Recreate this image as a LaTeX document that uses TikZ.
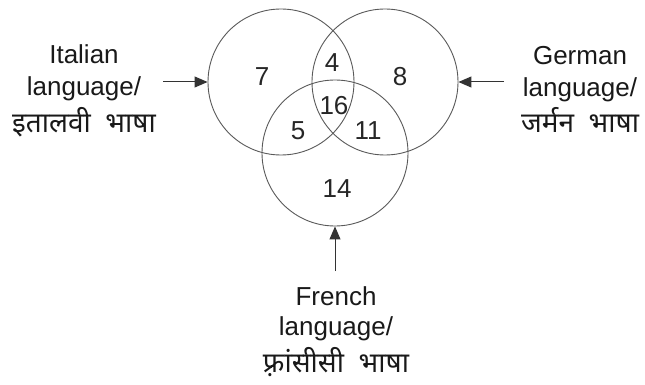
\documentclass[tikz,border=0pt]{standalone}
\usepackage{fontspec}
\setmainfont{Liberation Sans}
\newfontfamily\devfont[Script=Devanagari]{Noto Sans}
\usetikzlibrary{arrows.meta}
\begin{document}
\begin{tikzpicture}[x=1pt,y=-1pt,
  setcircle/.style={circle,draw=black!65,line width=0.9pt,minimum size=146pt,inner sep=0pt},
  num/.style={font=\fontsize{26}{26}\selectfont,inner sep=0pt,text=black!85},
  lbl/.style={anchor=base,font=\fontsize{26}{32}\selectfont,inner sep=0pt,text=black!90},
  dev/.style={anchor=base,font=\devfont\fontsize{28}{32}\selectfont,inner sep=0pt,text=black!90},
  arr/.style={-{Triangle[length=13pt,width=11pt]},line width=1pt,black!80}]
\useasboundingbox (0,0) rectangle (645,385);
\node[setcircle] (A) at (281,82) {};
\node[setcircle] (B) at (385,82) {};
\node[setcircle] (C) at (335,153) {};
\node[num] (n7) at (262,77) {7};
\node[num] (n4) at (332,63) {4};
\node[num] (n8) at (400,77) {8};
\node[num] (n16) at (334,106) {16};
\node[num] (n5) at (298,131) {5};
\node[num] (n11) at (368,131) {11};
\node[num] (n14) at (337,189) {14};
\node[lbl] (it1) at (84,64) {Italian};
\node[lbl] (it2) at (84,96) {language/};
\node[dev] (it3) at (84,132) {इतालवी\ \ भाषा};
\node[lbl] (ge1) at (580,65) {German};
\node[lbl] (ge2) at (580,97) {language/};
\node[dev] (ge3) at (580,133) {जर्मन\ \ भाषा};
\node[lbl] (fr1) at (336,305) {French};
\node[lbl] (fr2) at (336,335) {language/};
\node[dev] (fr3) at (336,372) {फ़्रांसीसी\ \ भाषा};
\coordinate (ia) at (163,82);
\coordinate (ga) at (504,82);
\coordinate (fa) at (335,271);
\draw[arr] (ia) -- (A.west);
\draw[arr] (ga) -- (B.east);
\draw[arr] (fa) -- (C.south);
\end{tikzpicture}
\end{document}
